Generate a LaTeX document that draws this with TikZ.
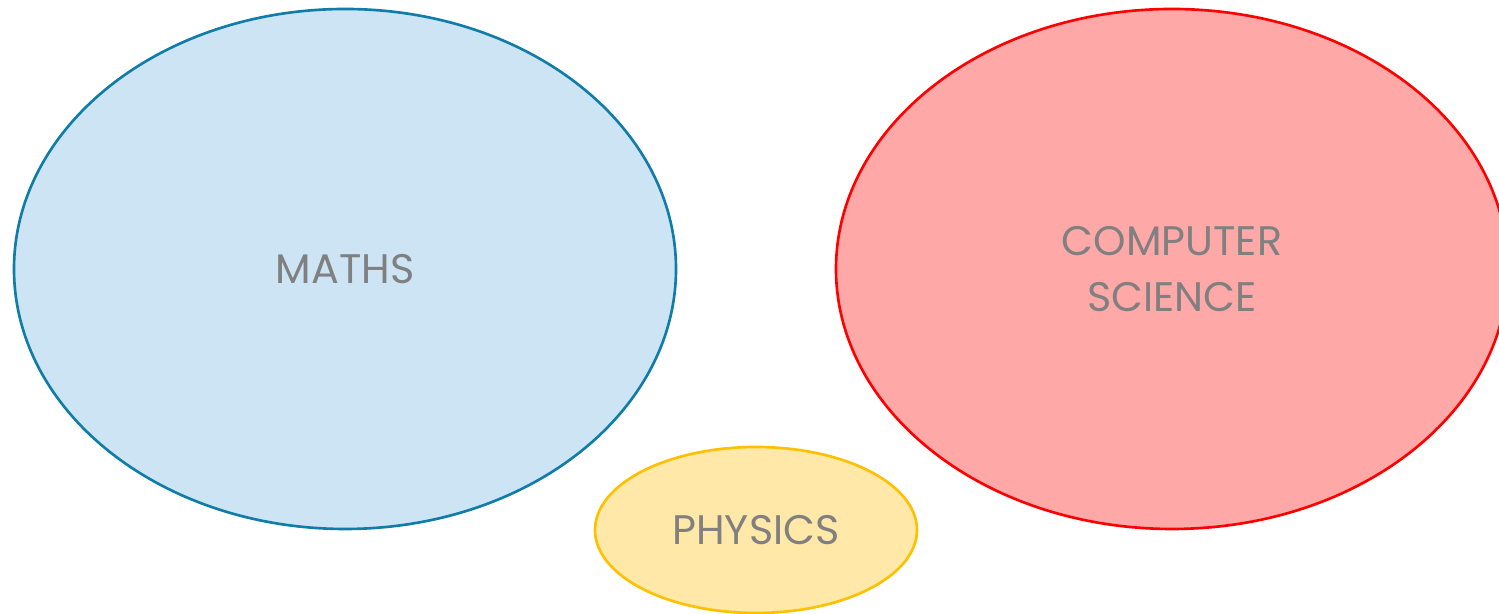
\documentclass[tikz,border=0pt]{standalone}
\usepackage{fontspec}
\setmainfont{Poppins}
\usetikzlibrary{shapes.geometric,positioning}
\definecolor{mathsfill}{RGB}{205,228,244}
\definecolor{mathsline}{RGB}{16,124,168}
\definecolor{csfill}{RGB}{255,168,168}
\definecolor{csline}{RGB}{255,0,0}
\definecolor{physfill}{RGB}{255,232,168}
\definecolor{physline}{RGB}{255,192,0}
\definecolor{labelgrey}{RGB}{128,128,128}
\begin{document}
\begin{tikzpicture}[
    blob/.style={ellipse, draw, line width=1.5pt, inner sep=0pt, align=center,
      text=labelgrey, font=\fontsize{23.5}{32}\selectfont}
]
    \clip (0,0) rectangle (29.98,12.28);
    \useasboundingbox (0,0) rectangle (29.98,12.28);
    \node[blob, fill=mathsfill, draw=mathsline, minimum width=13.24cm, minimum height=10.4cm] (maths) at (6.9,6.9) {MATHS};
    \node[blob, fill=csfill, draw=csline, minimum width=13.44cm, minimum height=10.4cm] (cs) at (23.44,6.9) {COMPUTER\\SCIENCE};
    \node[blob, fill=physfill, draw=physline, minimum width=6.44cm, minimum height=3.32cm] (physics) at (15.12,1.68) {PHYSICS};
\end{tikzpicture}
\end{document}
